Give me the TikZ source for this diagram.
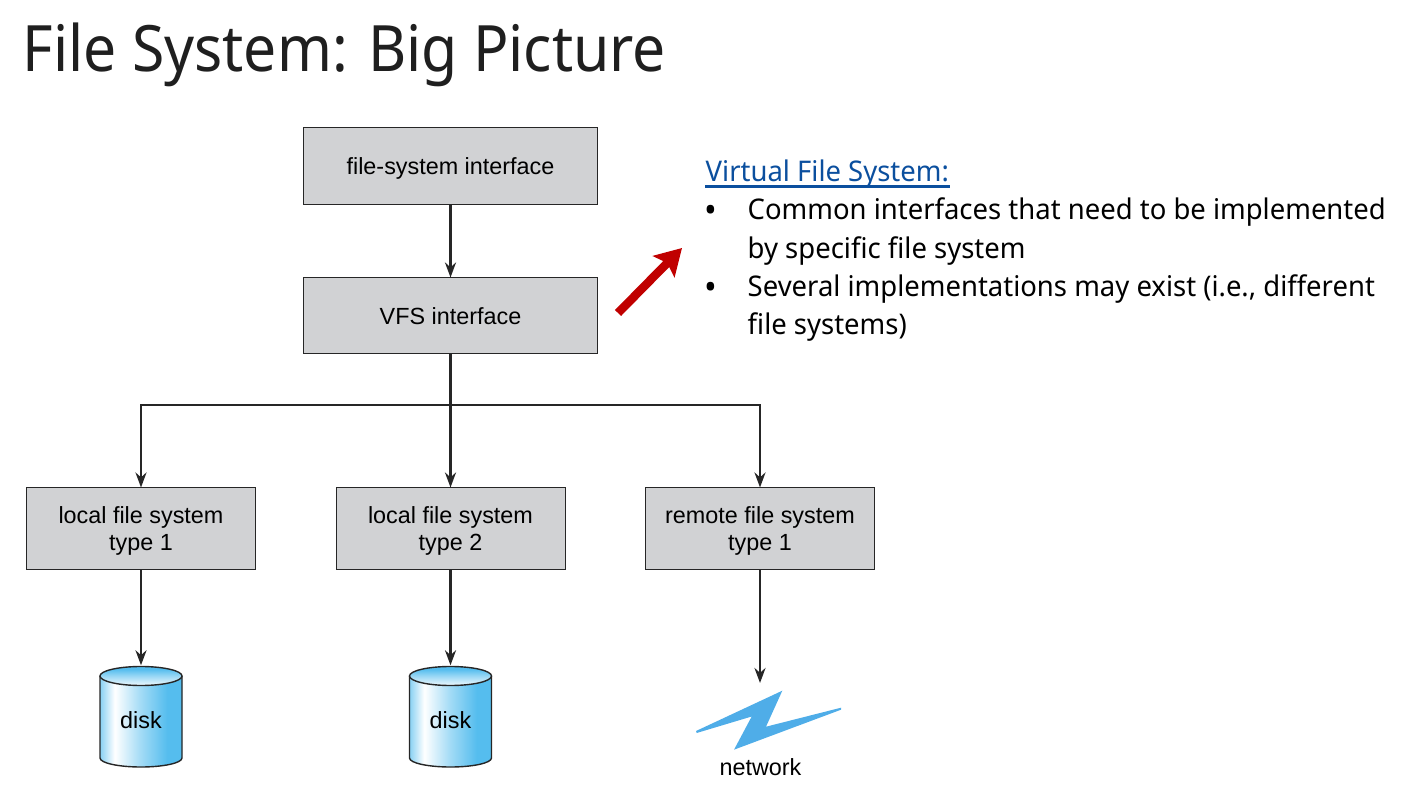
\documentclass[tikz,border=0pt]{standalone}
\usepackage{fontspec}
\setmainfont[FakeStretch=.965]{Noto Sans}
\newfontfamily\titlefont[FakeStretch=.92]{Noto Sans}
\newfontfamily\boxfont{Liberation Sans}
\usetikzlibrary{arrows.meta}
\definecolor{boxgray}{HTML}{D1D2D4}
\definecolor{diskblue}{HTML}{55BDEE}
\definecolor{boltblue}{HTML}{4FADE8}
\definecolor{linkblue}{HTML}{0B4F9E}
\definecolor{hintred}{HTML}{C00000}
\pgfdeclarehorizontalshading{diskside}{100bp}{color(0bp)=(diskblue!70!white); color(25bp)=(diskblue!70!white); color(34bp)=(white); color(50bp)=(diskblue!55!white); color(66bp)=(diskblue); color(100bp)=(diskblue)}
\pgfdeclareverticalshading{disktop}{100bp}{color(0bp)=(diskblue!10!white); color(25bp)=(diskblue!10!white); color(50bp)=(diskblue!60!white); color(68bp)=(diskblue); color(100bp)=(diskblue)}
\tikzset{
    fsbox/.style={draw=black!85, line width=.01cm, fill=boxgray, font=\boxfont\fontsize{6.65pt}{7.45pt}\selectfont, align=center, inner sep=0pt, text depth=0pt},
    diskbox/.style={font=\boxfont\fontsize{6.65pt}{7.45pt}\selectfont, minimum width=.82cm, minimum height=1.01cm, inner sep=0pt, text height=.23cm, text depth=0cm},
    conn/.style={draw=black!85, line width=.026cm, -{Stealth[length=.15cm,width=.11cm]}},
    slideline/.style={anchor=base west, inner sep=0pt, font=\fontsize{8.1pt}{9pt}\selectfont},
    slidebullet/.style={anchor=base west, inner sep=0pt, font=\fontsize{10pt}{11pt}\selectfont}
}
\newcommand{\diskshape}[1]{%
    \shade[shading=diskside] (#1-.41,-6.76) -- (#1-.41,-7.58) arc[start angle=180, end angle=360, x radius=.41, y radius=.09] -- (#1+.41,-6.76) -- cycle;
    \shade[shading=disktop] (#1,-6.76) ellipse[x radius=.41, y radius=.095];
    \draw[black!85, line width=.014cm] (#1-.41,-6.76) -- (#1-.41,-7.58) arc[start angle=180, end angle=360, x radius=.41, y radius=.09] -- (#1+.41,-6.76);
    \draw[black!85, line width=.014cm] (#1,-6.76) ellipse[x radius=.41, y radius=.095];
}
\begin{document}
\begin{tikzpicture}[>=stealth]
    \useasboundingbox (0,0) rectangle (14.15,-7.86);
    % title
    \node[anchor=base west, inner sep=0pt, text=black!88, font=\titlefont\fontsize{18.2pt}{20pt}\selectfont] (title) at (.22,-.72) {File System: Big Picture};
    % boxes
    \node[fsbox, minimum width=2.94cm, minimum height=.77cm] (fsiface) at (4.505,-1.665) {file-system interface};
    \node[fsbox, minimum width=2.94cm, minimum height=.76cm] (vfsiface) at (4.505,-3.16) {VFS interface};
    \node[fsbox, minimum width=2.29cm, minimum height=.81cm] (localone) at (1.41,-5.285) {local file system\\type 1};
    \node[fsbox, minimum width=2.29cm, minimum height=.81cm] (localtwo) at (4.505,-5.285) {local file system\\type 2};
    \node[fsbox, minimum width=2.29cm, minimum height=.81cm] (remote) at (7.6,-5.285) {remote file system\\type 1};
    % disks
    \diskshape{1.41}
    \diskshape{4.505}
    \node[diskbox] (diskone) at (1.41,-7.165) {disk};
    \node[diskbox] (disktwo) at (4.505,-7.165) {disk};
    % network
    \fill[boltblue] (6.96,-7.31) -- (7.823,-6.907) -- (7.66,-7.267) -- (8.41,-7.077) -- (8.41,-7.097) -- (7.34,-7.497) -- (7.517,-7.165) -- (6.967,-7.33) -- cycle;
    \node[font=\boxfont\fontsize{6.65pt}{7.45pt}\selectfont, inner sep=0pt] (network) at (7.605,-7.675) {network};
    \coordinate (netin) at (7.6,-6.83);
    % connectors
    \coordinate (bus) at (4.505,-4.05);
    \draw[conn] (fsiface) -- (vfsiface);
    \draw[conn] (vfsiface) -- (localtwo);
    \draw[conn] (bus) -| (localone.north);
    \draw[conn] (bus) -| (remote.north);
    \draw[conn] (localone) -- (diskone);
    \draw[conn] (localtwo) -- (disktwo);
    \draw[conn] (remote) -- (netin);
    % red arrow
    \coordinate (hinttail) at (6.18,-3.13);
    \coordinate (hinthead) at (6.82,-2.48);
    \draw[hintred, line width=.085cm, -{Stealth[length=.26cm,width=.3cm,inset=.05cm]}] (hinttail) -- (hinthead);
    % text
    \node[slideline, text=linkblue] (vfshead) at (7.05,-1.82) {Virtual File System:};
    \draw[linkblue, line width=.022cm] ([yshift=-.045cm]vfshead.base west) -- ([yshift=-.045cm]vfshead.base east);
    \node[slidebullet] (bulletone) at (7.035,-2.225) {•};
    \node[slideline] (lineone) at (7.47,-2.2) {Common interfaces that need to be implemented};
    \node[slideline] (linetwo) at (7.47,-2.59) {by specific file system};
    \node[slidebullet] (bullettwo) at (7.035,-2.995) {•};
    \node[slideline] (linethree) at (7.47,-2.97) {Several implementations may exist (i.e., different};
    \node[slideline] (linefour) at (7.47,-3.35) {file systems)};
\end{tikzpicture}
\end{document}
